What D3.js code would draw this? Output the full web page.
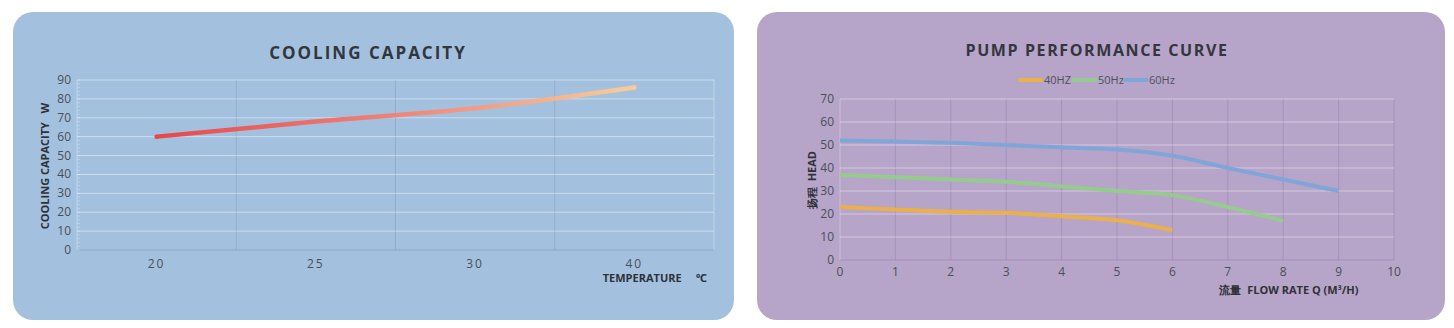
<!DOCTYPE html>
<html>
<head>
<meta charset="utf-8">
<script src="https://cdn.jsdelivr.net/npm/d3@7"></script>
<style>
  html, body { margin: 0; padding: 0; background: #fff; }
  svg { display: block; font-family: "Open Sans", "Noto Sans", sans-serif; }
  .tick-label { font-size: 12px; fill: #4a4f58; }
  .axis-title { font-size: 11px; font-weight: 700; fill: #2e3138; }
  .chart-title { font-size: 17px; font-weight: 700; fill: #33363d; letter-spacing: 2px; }
</style>
</head>
<body>
<svg id="chart" width="1454" height="328"></svg>
<script>
// ---------------------------------------------------------------------------
// Data
// ---------------------------------------------------------------------------
const tempCategories = ['20', '25', '30', '40'];
const coolingValues = [60, 68, 75, 86];
const coolingTicks = [0, 10, 20, 30, 40, 50, 60, 70, 80, 90];

const flowTicks = [0, 1, 2, 3, 4, 5, 6, 7, 8, 9, 10];
const headTicks = [0, 10, 20, 30, 40, 50, 60, 70];
const seriesNames = ['40HZ', '50Hz', '60Hz'];
const head40 = [23, 22, 21, 20.5, 19, 17.3, 13];
const head50 = [37, 36, 35, 34, 32, 30, 28.2, 23, 17];
const head60 = [52, 51.5, 51, 50, 49, 48, 45.3, 40, 35, 30];
const seriesColors = ['#e9b04c', '#95cc8d', '#80a5d9'];

const svg = d3.select('#chart');

// ---------------------------------------------------------------------------
// Panels
// ---------------------------------------------------------------------------
svg.append('rect')
    .attr('x', 13).attr('y', 12).attr('width', 721).attr('height', 308)
    .attr('rx', 20).attr('fill', '#a3c1df');

svg.append('rect')
    .attr('x', 757).attr('y', 12).attr('width', 688).attr('height', 308)
    .attr('rx', 20).attr('fill', '#b7a4c9');

// ---------------------------------------------------------------------------
// Cooling capacity chart
// ---------------------------------------------------------------------------
{
    const x = d3.scaleBand().domain(tempCategories).range([77, 714]);
    const y = d3.scaleLinear().domain([0, 90]).range([250, 80]);
    const g = svg.append('g');

    // horizontal grid
    g.selectAll('.hgrid')
        .data(coolingTicks.filter(d => d > 0))
        .join('line')
        .attr('x1', 77).attr('x2', 714)
        .attr('y1', d => y(d)).attr('y2', d => y(d))
        .attr('stroke', 'rgba(255,255,255,0.45)').attr('stroke-width', 1);

    // vertical band separators
    g.selectAll('.vgrid')
        .data(tempCategories.slice(1).concat(['end']))
        .join('line')
        .attr('x1', (d, i) => x(tempCategories[0]) + x.bandwidth() * (i + 1))
        .attr('x2', (d, i) => x(tempCategories[0]) + x.bandwidth() * (i + 1))
        .attr('y1', y(90)).attr('y2', y(0))
        .attr('stroke', (d, i) => i === 3 ? 'rgba(255,255,255,0.3)' : 'rgba(90,115,140,0.22)')
        .attr('stroke-width', 1);

    // axis lines
    g.append('line')
        .attr('x1', 77).attr('x2', 714).attr('y1', y(0)).attr('y2', y(0))
        .attr('stroke', 'rgba(110,135,160,0.4)');
    g.append('line')
        .attr('x1', 77).attr('x2', 77).attr('y1', y(90)).attr('y2', y(0))
        .attr('stroke', 'rgba(255,255,255,0.35)');

    // minor ticks on y axis
    g.selectAll('.minor')
        .data(d3.range(0, 91, 2))
        .join('line')
        .attr('x1', 77).attr('x2', 80)
        .attr('y1', d => y(d)).attr('y2', d => y(d))
        .attr('stroke', 'rgba(255,255,255,0.25)');

    // y tick labels
    g.selectAll('.ylab')
        .data(coolingTicks)
        .join('text')
        .attr('class', 'tick-label')
        .attr('x', 71).attr('y', d => y(d) + 4)
        .attr('text-anchor', 'end')
        .text(d => d);

    // x tick labels
    g.selectAll('.xlab')
        .data(tempCategories)
        .join('text')
        .attr('class', 'tick-label')
        .attr('x', d => x(d) + x.bandwidth() / 2)
        .attr('y', 268)
        .attr('text-anchor', 'middle')
        .style('letter-spacing', '2px')
        .text(d => d);

    // gradient line
    const grad = svg.append('defs').append('linearGradient')
        .attr('id', 'coolGrad')
        .attr('gradientUnits', 'userSpaceOnUse')
        .attr('x1', x('20') + x.bandwidth() / 2).attr('x2', x('40') + x.bandwidth() / 2)
        .attr('y1', 0).attr('y2', 0);
    grad.append('stop').attr('offset', '0%').attr('stop-color', '#e8474a');
    grad.append('stop').attr('offset', '50%').attr('stop-color', '#ee8478');
    grad.append('stop').attr('offset', '100%').attr('stop-color', '#f7cd9b');

    const line = d3.line()
        .x((d, i) => x(tempCategories[i]) + x.bandwidth() / 2)
        .y(d => y(d))
        .curve(d3.curveMonotoneX);

    g.append('path')
        .datum(coolingValues)
        .attr('d', line)
        .attr('fill', 'none')
        .attr('stroke', 'url(#coolGrad)')
        .attr('stroke-width', 4.5)
        .attr('stroke-linecap', 'round');

    // titles
    g.append('text')
        .attr('class', 'chart-title')
        .attr('x', 368).attr('y', 59)
        .attr('text-anchor', 'middle')
        .text('COOLING CAPACITY');

    g.append('text')
        .attr('class', 'axis-title')
        .attr('transform', 'translate(49,166) rotate(-90)')
        .attr('text-anchor', 'middle')
        .attr('xml:space', 'preserve')
        .text('COOLING CAPACITY   W');

    g.append('text')
        .attr('class', 'axis-title')
        .attr('x', 707).attr('y', 282)
        .attr('text-anchor', 'end')
        .attr('xml:space', 'preserve')
        .text('TEMPERATURE     ℃');
}

// ---------------------------------------------------------------------------
// Pump performance chart
// ---------------------------------------------------------------------------
{
    const x = d3.scaleLinear().domain([0, 10]).range([840, 1394]);
    const y = d3.scaleLinear().domain([0, 70]).range([260, 99]);
    const g = svg.append('g');

    g.selectAll('.vgrid')
        .data(flowTicks.slice(1))
        .join('line')
        .attr('x1', d => x(d)).attr('x2', d => x(d))
        .attr('y1', y(70)).attr('y2', y(0))
        .attr('stroke', 'rgba(120,100,145,0.25)');

    g.selectAll('.hgrid')
        .data(headTicks.filter(d => d > 0))
        .join('line')
        .attr('x1', x(0)).attr('x2', x(10))
        .attr('y1', d => y(d)).attr('y2', d => y(d))
        .attr('stroke', 'rgba(255,255,255,0.4)').attr('stroke-width', 1.2);

    g.append('line')
        .attr('x1', x(0)).attr('x2', x(10)).attr('y1', y(0)).attr('y2', y(0))
        .attr('stroke', 'rgba(140,120,165,0.45)');
    g.append('line')
        .attr('x1', x(0)).attr('x2', x(0)).attr('y1', y(70)).attr('y2', y(0))
        .attr('stroke', 'rgba(255,255,255,0.3)');

    g.selectAll('.ylab')
        .data(headTicks)
        .join('text')
        .attr('class', 'tick-label')
        .attr('x', 834).attr('y', d => y(d) + 4)
        .attr('text-anchor', 'end')
        .text(d => d);

    g.selectAll('.xlab')
        .data(flowTicks)
        .join('text')
        .attr('class', 'tick-label')
        .attr('x', d => x(d)).attr('y', 276)
        .attr('text-anchor', 'middle')
        .text(d => d);

    const line = d3.line()
        .x((d, i) => x(i))
        .y(d => y(d))
        .curve(d3.curveMonotoneX);

    [head40, head50, head60].forEach((values, i) => {
        g.append('path')
            .datum(values)
            .attr('d', line)
            .attr('fill', 'none')
            .attr('stroke', seriesColors[i])
            .attr('stroke-width', 4)
            .attr('stroke-linecap', 'butt');
    });

    // legend
    const legendX = [1018, 1072, 1123];
    seriesNames.forEach((name, i) => {
        g.append('line')
            .attr('x1', legendX[i]).attr('x2', legendX[i] + 25)
            .attr('y1', 80).attr('y2', 80)
            .attr('stroke', seriesColors[i]).attr('stroke-width', 4);
        g.append('text')
            .attr('x', legendX[i] + 26).attr('y', 84)
            .style('font-size', '11px').style('fill', '#4f5058')
            .text(name);
    });

    g.append('text')
        .attr('class', 'chart-title')
        .attr('x', 1097).attr('y', 56)
        .attr('text-anchor', 'middle')
        .style('font-size', '16px')
        .style('letter-spacing', '1.6px')
        .text('PUMP PERFORMANCE CURVE');

    g.append('text')
        .attr('class', 'axis-title')
        .attr('transform', 'translate(816,180) rotate(-90)')
        .attr('text-anchor', 'middle')
        .attr('xml:space', 'preserve')
        .text('扬程  HEAD');

    g.append('text')
        .attr('class', 'axis-title')
        .attr('x', 1289).attr('y', 294)
        .attr('text-anchor', 'middle')
        .attr('xml:space', 'preserve')
        .text('流量  FLOW RATE Q (M³/H)');
}
</script>
</body>
</html>
